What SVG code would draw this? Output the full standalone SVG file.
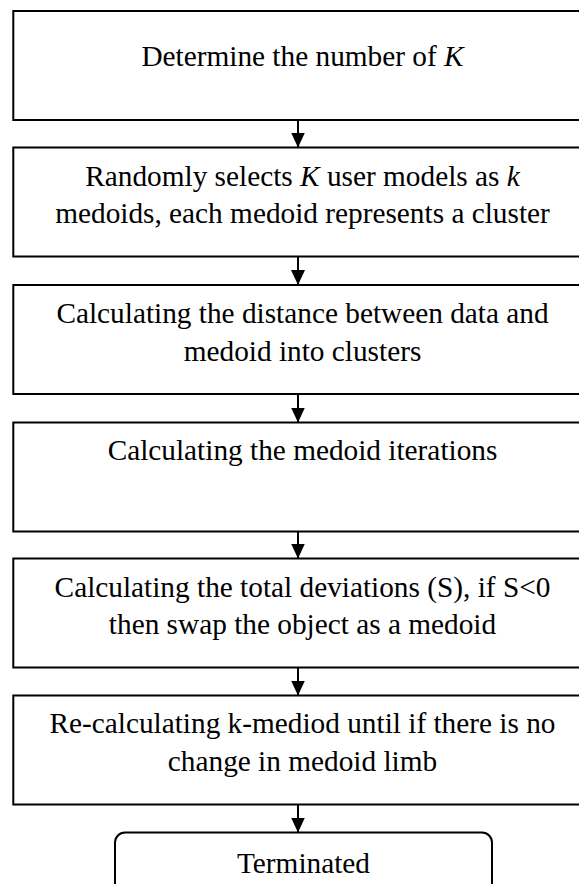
<svg xmlns="http://www.w3.org/2000/svg" width="579" height="884" viewBox="0 0 579 884">
<defs>
<style>
.box{fill:#fff;stroke:#000;stroke-width:2}
.t{font-family:"Liberation Serif","Times New Roman",serif;font-size:29.3px;fill:#000;text-anchor:middle}
.i{font-style:italic}
.c{stroke:#000;stroke-width:2;fill:none}
</style>
<marker id="ah" markerWidth="15" markerHeight="14" refX="15" refY="7" orient="auto" markerUnits="userSpaceOnUse">
<path d="M0,0 L15,7 L0,14 Z" fill="#000"/>
</marker>
</defs>
<rect width="579" height="884" fill="#fff"/>
<g id="connectors">
<line class="c" x1="298" y1="120" x2="298" y2="147.5" marker-end="url(#ah)"/>
<line class="c" x1="298" y1="256.5" x2="298" y2="285" marker-end="url(#ah)"/>
<line class="c" x1="298" y1="394" x2="298" y2="422.5" marker-end="url(#ah)"/>
<line class="c" x1="298" y1="531.5" x2="298" y2="558.5" marker-end="url(#ah)"/>
<line class="c" x1="298" y1="667.5" x2="298" y2="695.5" marker-end="url(#ah)"/>
<line class="c" x1="298" y1="804.5" x2="298" y2="832.5" marker-end="url(#ah)"/>
</g>
<g id="n1">
<rect class="box" x="13.3" y="11" width="600" height="109"/>
<text class="t" x="302.5" y="66">Determine the number of <tspan class="i">K</tspan></text>
</g>
<g id="n2">
<rect class="box" x="13.3" y="147.5" width="600" height="109"/>
<text class="t" x="302.5" y="185.7">Randomly selects <tspan class="i">K</tspan> user models as <tspan class="i">k</tspan></text>
<text class="t" x="302.5" y="223.3">medoids, each medoid represents a cluster</text>
</g>
<g id="n3">
<rect class="box" x="13.3" y="285" width="600" height="109"/>
<text class="t" x="302.5" y="322.7">Calculating the distance between data and</text>
<text class="t" x="302.5" y="361">medoid into clusters</text>
</g>
<g id="n4">
<rect class="box" x="13.3" y="422.5" width="600" height="109"/>
<text class="t" x="302.5" y="460">Calculating the medoid iterations</text>
</g>
<g id="n5">
<rect class="box" x="13.3" y="558.5" width="600" height="109"/>
<text class="t" x="302.5" y="596.7">Calculating the total deviations (S), if S&lt;0</text>
<text class="t" x="302.5" y="634.3">then swap the object as a medoid</text>
</g>
<g id="n6">
<rect class="box" x="13.3" y="695.5" width="600" height="109"/>
<text class="t" x="302.5" y="733.3">Re-calculating k-mediod until if there is no</text>
<text class="t" x="302.5" y="771">change in medoid limb</text>
</g>
<g id="n7">
<rect class="box" x="115" y="832.5" width="377" height="80" rx="10" ry="10"/>
<text class="t" x="303.5" y="872.7">Terminated</text>
</g>
</svg>
